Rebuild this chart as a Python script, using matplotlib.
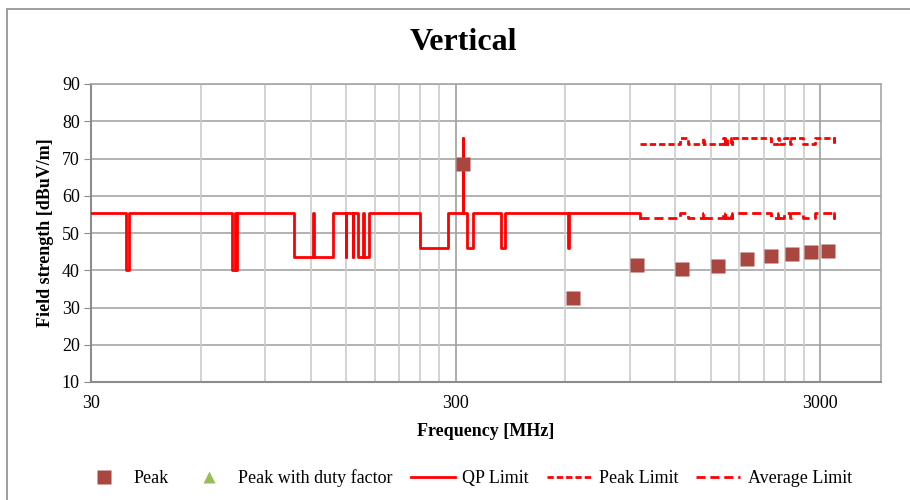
import matplotlib
matplotlib.use('Agg')
import matplotlib.pyplot as plt
from matplotlib.patches import Rectangle
from matplotlib.ticker import FixedLocator, NullFormatter

plt.rcParams['font.family'] = ['Liberation Serif', 'DejaVu Serif']
plt.rcParams['lines.scale_dashes'] = False

# measured emissions (MHz, dBuV/m)
peak_freq = [314, 628, 943, 1255, 1575, 1888, 2197, 2514, 2829, 3141]
peak_level = [68.6, 32.5, 41.3, 40.3, 41.2, 42.9, 43.9, 44.4, 44.8, 45.2]
duty_freq = []
duty_level = []

# QP limit, stepwise (frequency where each level starts)
qp_freq = [30, 37.5, 38.25, 73, 74.6, 74.8, 75.2, 108, 121.94, 123, 138,
           149.9, 150.05, 156.5, 156.9, 162.0, 167.2, 167.7, 173.2,
           240, 285, 314, 315, 322, 335.4, 399.9, 410, 608, 614, 960]
qp_level = [55.5, 40, 55.5, 40, 55.5, 40, 55.5, 43.5, 55.5, 43.5, 55.5,
            43.5, 55.5, 43.5, 55.5, 43.5, 55.5, 43.5, 55.5,
            46, 55.5, 75.5, 55.5, 46, 55.5, 46, 55.5, 46, 55.5, 54]

# Peak / Average limits above 960 MHz
hf_freq = [960, 1240, 1300, 1427, 1435, 1626.5, 1645.5, 1646.5, 1660, 1710,
           1718.8, 1722.2, 2200, 2300, 2310, 2390, 2483.5, 2500, 2690, 2900,
           3260, 3267, 3300]
pk_level = [74, 75.5, 74, 75.5, 74, 75.5, 74, 75.5, 74, 75.5,
            74, 75.5, 74, 75.5, 74, 75.5, 74, 75.5, 74, 75.5,
            74, 75.5, 75.5]
av_level = [54, 55.5, 54, 55.5, 54, 55.5, 54, 55.5, 54, 55.5,
            54, 55.5, 54, 55.5, 54, 55.5, 54, 55.5, 54, 55.5,
            54, 55.5, 55.5]

x_min, x_max = 30, 4400
y_ticks = [10, 20, 30, 40, 50, 60, 70, 80, 90]
x_ticks = [30, 300, 3000]
x_minor = [30 * k for k in range(2, 10)] + [300 * k for k in range(2, 10)]

fig = plt.figure(figsize=(9.1, 5), dpi=100)
ax = fig.add_axes([91 / 910, 1 - 382 / 500, (881 - 91) / 910, (382 - 84) / 500])

ax.set_xscale('log')
ax.set_xlim(x_min, x_max)
ax.set_ylim(10, 90)

# grid
for y in y_ticks:
    ax.axhline(y, color='#a6a6a6', lw=1.2, zorder=1)
for x in x_minor:
    ax.axvline(x, color='#cccccc', lw=1.2, zorder=1)
for x in x_ticks[1:]:
    ax.axvline(x, color='#a0a0a0', lw=1.2, zorder=1)

red = '#ff0000'
ax.plot(qp_freq, qp_level, drawstyle='steps-post', color=red, lw=2.0,
        label='QP Limit', zorder=3)
ax.plot(hf_freq, pk_level, drawstyle='steps-post', color=red, lw=2.0,
        linestyle=(0, (4.5, 2.2)), label='Peak Limit', zorder=3)
ax.plot(hf_freq, av_level, drawstyle='steps-post', color=red, lw=2.0,
        linestyle=(0, (6.5, 3.5)), label='Average Limit', zorder=3)
ax.plot(peak_freq, peak_level, 's', color='#a8463f', ms=10.5, mec='none',
        label='Peak', zorder=4)
ax.plot(duty_freq, duty_level, '^', color='#9bbb59', ms=9, mec='none',
        label='Peak with duty factor', zorder=4)

ax.xaxis.set_major_locator(FixedLocator(x_ticks))
ax.set_xticklabels([str(v) for v in x_ticks])
ax.xaxis.set_minor_locator(FixedLocator(x_minor))
ax.xaxis.set_minor_formatter(NullFormatter())
ax.set_yticks(y_ticks)
ax.tick_params(axis='x', which='both', length=0, labelsize=13, pad=9)
ax.tick_params(axis='y', length=5, color='#8c8c8c', labelsize=13, pad=3)

for side in ['left', 'bottom']:
    ax.spines[side].set_color('#8c8c8c')
    ax.spines[side].set_linewidth(1.5)
for side in ['top', 'right']:
    ax.spines[side].set_color('#a6a6a6')
    ax.spines[side].set_linewidth(1.2)

ax.set_xlabel('Frequency [MHz]', fontsize=13, fontweight='bold', labelpad=8)
ax.set_ylabel('Field strength [dBuV/m]', fontsize=13, fontweight='bold', labelpad=6)

fig.text(463 / 910, 1 - 43 / 500, 'Vertical', ha='center', va='center',
         fontsize=23, fontweight='bold')

# chart border
fig.add_artist(Rectangle((7 / 910, -0.1), 1.2, 1.1 - 9 / 500, transform=fig.transFigure,
                         fill=False, edgecolor='#8c8c8c', lw=1.2))

handles, labels = ax.get_legend_handles_labels()
order = ['Peak', 'Peak with duty factor', 'QP Limit', 'Peak Limit', 'Average Limit']
hmap = dict(zip(labels, handles))
fig.legend([hmap[k] for k in order], order, loc='center', ncol=5,
           bbox_to_anchor=(467 / 910, 1 - 478 / 500), frameon=False,
           fontsize=13, handlelength=2.45, columnspacing=1.0, handletextpad=0.4)

fig.savefig('out.png', dpi=100)
